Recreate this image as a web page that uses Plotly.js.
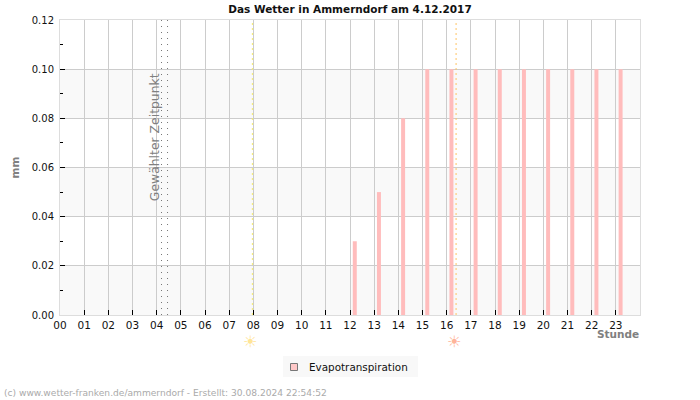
<!DOCTYPE html>
<html>
<head>
<meta charset="utf-8">
<script src="https://cdn.plot.ly/plotly-3.0.1.min.js"></script>
<style>html,body{margin:0;padding:0;background:#fff}</style>
</head>
<body>
<div id="chart" style="width:700px;height:400px"></div>
<script>
const hours = [0,1,2,3,4,5,6,7,8,9,10,11,12,13,14,15,16,17,18,19,20,21,22,23];
const hourLabels = ['00','01','02','03','04','05','06','07','08','09','10','11','12','13','14','15','16','17','18','19','20','21','22','23'];
const evapotranspiration = [0,0,0,0,0,0,0,0,0,0,0,0,0.03,0.05,0.08,0.10,0.10,0.10,0.10,0.10,0.10,0.10,0.10,0.10];
const selectedTimes = [4.2,4.45];
const sunrise = 7.96;
const sunset = 16.39;
const bands = [[0,0.02],[0.04,0.06],[0.08,0.10]];
const seriesName = 'Evapotranspiration';
const titleText = 'Das Wetter in Ammerndorf am 4.12.2017';
const footerText = '(c) www.wetter-franken.de/ammerndorf - Erstellt: 30.08.2024 22:54:52';

const font = 'DejaVu Sans, sans-serif';
const px = v => (v-60)/580, py = v => (315-v)/295;
const shapes = [];
bands.forEach(b => shapes.push({type:'rect',layer:'below',xref:'paper',yref:'y',x0:0,x1:1,y0:b[0],y1:b[1],fillcolor:'#f9f9f9',line:{width:0}}));
selectedTimes.forEach(t => shapes.push({type:'line',layer:'above',xref:'x',yref:'paper',x0:t,x1:t,y0:0,y1:1,line:{color:'#777',width:1,dash:'1px 5px'}}));
shapes.push({type:'line',xref:'x',yref:'paper',x0:sunrise,x1:sunrise,y0:0,y1:1,line:{color:'#f7ec6a',width:1,dash:'2px 3px'}});
shapes.push({type:'line',xref:'x',yref:'paper',x0:sunset,x1:sunset,y0:0,y1:1,line:{color:'#ffc465',width:1,dash:'2px 3px'}});
shapes.push({type:'rect',xref:'paper',yref:'paper',x0:px(283),x1:px(418),y0:py(377),y1:py(356),fillcolor:'#f8f8f8',line:{width:0}});
shapes.push({type:'rect',xref:'paper',yref:'paper',x0:px(290.5),x1:px(297.5),y0:py(370.5),y1:py(363.5),fillcolor:'#ffc8c8',line:{color:'#777',width:1}});

const data = [{
  type:'bar', x:hours, y:evapotranspiration, name:seriesName, showlegend:false,
  width:0.165, offset:0.115,
  marker:{color:'#ffbcbc', line:{width:0}}
}];

const layout = {
  width:700, height:400, autosize:false,
  margin:{l:60,r:60,t:20,b:85,pad:0},
  paper_bgcolor:'#fff', plot_bgcolor:'#fff', showlegend:false,
  font:{family:font,size:10.5,color:'#111'},
  title:{text:'<b>'+titleText+'</b>',font:{family:font,size:10.5,color:'#111'},x:0.5,xanchor:'center',xref:'paper',y:0.977,yanchor:'middle'},
  xaxis:{
    range:[0,24], tickmode:'array', tickvals:hours, ticktext:hourLabels,
    ticks:'inside', ticklen:5, tickcolor:'#000', tickwidth:1,
    showgrid:true, gridcolor:'#ccc', gridwidth:1, zeroline:false,
    showline:true, linecolor:'#ddd', linewidth:1, mirror:true,
    tickangle:0, tickfont:{family:font,size:10.5,color:'#111'}
  },
  yaxis:{
    range:[0,0.12], tickmode:'linear', tick0:0, dtick:0.02, tickformat:'.2f',
    ticks:'inside', ticklen:5, tickcolor:'#000', tickwidth:1,
    minor:{dtick:0.01, ticks:'inside', ticklen:3, tickcolor:'#000', tickwidth:1, showgrid:false},
    showgrid:true, gridcolor:'#ccc', gridwidth:1, zeroline:false,
    showline:true, linecolor:'#ddd', linewidth:1, mirror:true,
    ticklabelstandoff:3,
    tickfont:{family:font,size:10,color:'#111'},
    title:{text:'<b>mm</b>',font:{family:font,size:10.5,color:'#808080'},standoff:10}
  },
  shapes:shapes,
  annotations:[
    {xref:'x',yref:'y',x:4,y:0.0724,text:'Gewählter Zeitpunkt',textangle:-90,showarrow:false,xanchor:'right',yanchor:'middle',xshift:7,font:{family:font,size:12.4,color:'#808080'}},
    {xref:'paper',yref:'paper',x:1,y:py(334),text:'<b>Stunde</b>',showarrow:false,xanchor:'right',yanchor:'middle',xshift:1,font:{family:font,size:10.5,color:'#808080'}},
    {xref:'paper',yref:'paper',x:px(2),y:py(393),xanchor:'left',yanchor:'middle',showarrow:false,text:footerText,font:{family:font,size:9.1,color:'#aaa'}},
    {xref:'paper',yref:'paper',x:px(307),y:py(366.5),xanchor:'left',yanchor:'middle',showarrow:false,text:seriesName,font:{family:font,size:10.4,color:'#111'}},
    {xref:'x',yref:'paper',x:sunrise,y:py(341),xshift:-2,xanchor:'center',yanchor:'middle',text:'☀',showarrow:false,font:{family:font,size:16,color:'#ffe596'}},
    {xref:'x',yref:'paper',x:sunset,y:py(341),xshift:-2,xanchor:'center',yanchor:'middle',text:'☀',showarrow:false,font:{family:font,size:16,color:'#ffb499'}}
  ]
};
Plotly.newPlot('chart',data,layout,{displayModeBar:false,staticPlot:true});
</script>
</body>
</html>
